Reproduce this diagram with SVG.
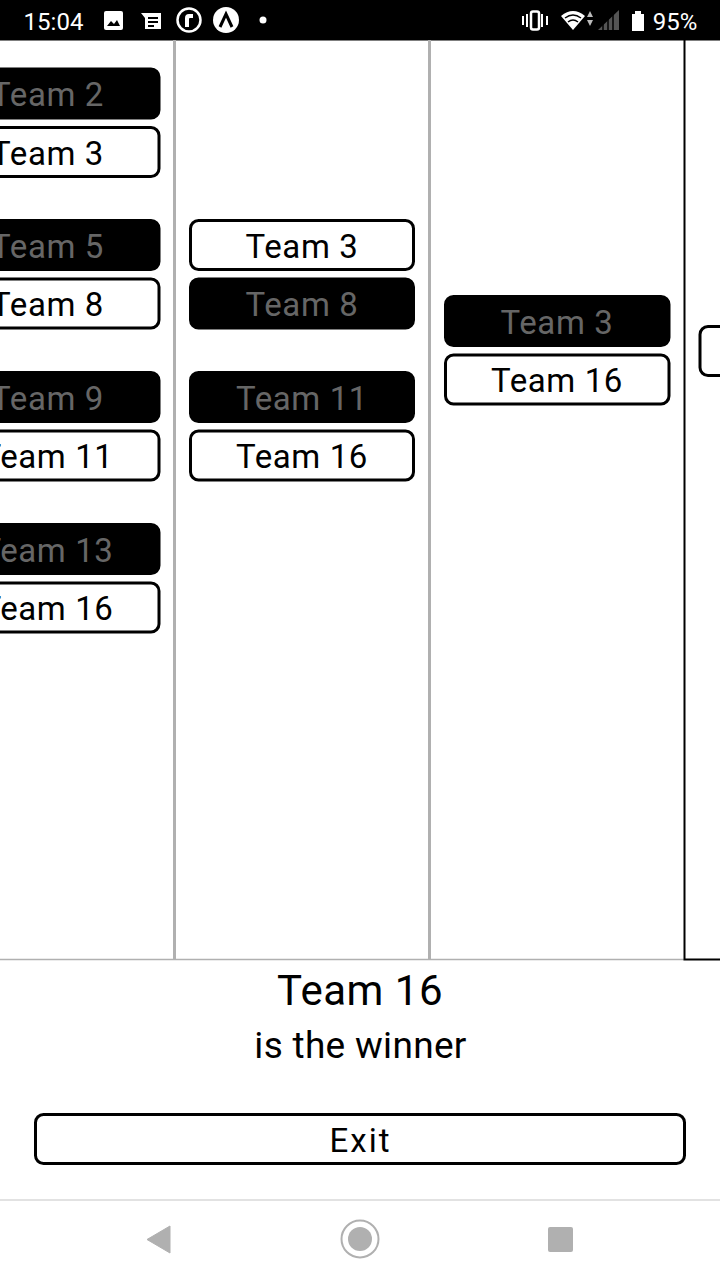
<svg xmlns="http://www.w3.org/2000/svg" width="720" height="1280" viewBox="0 0 720 1280">
<style>
text{font-family:Roboto,"Noto Sans",sans-serif;text-anchor:middle}
.t{font-size:33px;letter-spacing:.6px}
.w rect{fill:#fff;stroke:#000;stroke-width:3}
.w text{fill:#000}
.d rect{fill:#000;stroke:#000;stroke-width:3}
.d text{fill:#666}
.nav{fill:#b0b0b0}
</style>
<rect width="720" height="1280" fill="#fff"/>
<g id="status-bar">
<rect width="720" height="40.500" fill="#000"/>
<text x="53.500" y="30" font-size="24" fill="#fff">15:04</text>
<rect x="104" y="11" width="19" height="19" rx="2" fill="#fff"/>
<path d="M107 26l4-5 3 3 3-4 3 6z" fill="#000"/>
<path d="M141 13h20v16h-16v-11z" fill="#fff"/>
<path d="M148 17h10v2h-10zM148 21h10v2h-10zM148 25h6v2h-6z" fill="#000"/>
<circle cx="189" cy="20" r="11.500" fill="none" stroke="#fff" stroke-width="2.500"/>
<path d="M185 27v-9q0-4 4-4h4v4h-3q-1 0-1 1v8z" fill="#fff"/>
<circle cx="226" cy="20" r="13" fill="#fff"/>
<path d="M220 27l6-13 6 13" fill="none" stroke="#000" stroke-width="3"/>
<circle cx="263" cy="20" r="3.500" fill="#fff"/>
<path d="M522 16h2v9h-2zM526 14h2v13h-2zM541 14h2v13h-2zM546 16h2v9h-2z" fill="#fff"/>
<rect x="531" y="11.500" width="8" height="18" rx="2" fill="none" stroke="#fff" stroke-width="2.500"/>
<path d="M561 16q12-10 24 0l-12 14z" fill="#fff"/>
<path d="M565 18q8-6 16 0M568 22q5-4 10 0" stroke="#000" stroke-width="1.500" fill="none"/>
<path d="M587 17l3-6 3 6zM587 20l3 6 3-6z" fill="#bbb"/>
<path d="M598 30l21-20v20z" fill="#555"/>
<path d="M603 24v7M608 19v12M613 14v17" stroke="#000" stroke-width="1.500" fill="none"/>
<path d="M632 14h3v-3h6v3h3v17h-12z" fill="#fff"/>
<text x="675" y="30" font-size="24" fill="#fff">95%</text>
</g>
<g id="connectors">
<path d="M174.500 40v919M429.500 40v919" stroke="#b0b0b0" stroke-width="3" fill="none"/>
<path d="M0 959.500h684" stroke="#b0b0b0" stroke-width="1.500" fill="none"/>
<path d="M684.500 40v919.500h36" stroke="#000" stroke-width="2" fill="none"/>
</g>
<g id="r1-team2" class="d t"><rect x="-65" y="69" width="224" height="49" rx="8"/><text x="47.500" y="106">Team 2</text></g>
<g id="r1-team3" class="w t"><rect x="-65" y="127.500" width="224" height="49" rx="8"/><text x="47.500" y="165">Team 3</text></g>
<g id="r1-team5" class="d t"><rect x="-65" y="220.500" width="224" height="49" rx="8"/><text x="47.500" y="257.500">Team 5</text></g>
<g id="r1-team8" class="w t"><rect x="-65" y="279" width="224" height="49" rx="8"/><text x="47.500" y="316">Team 8</text></g>
<g id="r1-team9" class="d t"><rect x="-65" y="372.500" width="224" height="49" rx="8"/><text x="47.500" y="409.500">Team 9</text></g>
<g id="r1-team11" class="w t"><rect x="-65" y="431" width="224" height="49" rx="8"/><text x="47.500" y="468">Team 11</text></g>
<g id="r1-team13" class="d t"><rect x="-65" y="524.500" width="224" height="49" rx="8"/><text x="47.500" y="561.500">Team 13</text></g>
<g id="r1-team16" class="w t"><rect x="-65" y="583" width="224" height="49" rx="8"/><text x="47.500" y="620">Team 16</text></g>
<g id="r2-team3" class="w t"><rect x="190.500" y="220.500" width="223" height="49" rx="8"/><text x="302" y="257.500">Team 3</text></g>
<g id="r2-team8" class="d t"><rect x="190.500" y="279" width="223" height="49" rx="8"/><text x="302" y="316">Team 8</text></g>
<g id="r2-team11" class="d t"><rect x="190.500" y="372.500" width="223" height="49" rx="8"/><text x="302" y="409.500">Team 11</text></g>
<g id="r2-team16" class="w t"><rect x="190.500" y="431" width="223" height="49" rx="8"/><text x="302" y="468">Team 16</text></g>
<g id="r3-team3" class="d t"><rect x="445.500" y="296.500" width="223.500" height="49" rx="8"/><text x="557" y="333.500">Team 3</text></g>
<g id="r3-team16" class="w t"><rect x="445.500" y="355" width="223.500" height="49" rx="8"/><text x="557" y="392">Team 16</text></g>
<g id="r4-team16" class="w t"><rect x="700" y="326.500" width="225" height="49" rx="8"/></g>
<g id="winner">
<text x="360" y="1005" font-size="42" letter-spacing=".5">Team 16</text>
<text x="360.500" y="1058" font-size="37" letter-spacing=".3">is the winner</text>
</g>
<g id="exit" class="w t"><rect x="35.500" y="1114.500" width="649" height="49" rx="8"/><text x="360.500" y="1152" style="letter-spacing:2px">Exit</text></g>
<g id="nav-bar">
<path d="M0 1200h720" stroke="#e2e2e2" stroke-width="2"/>
<path d="M147 1239.500l23-13.500v27z" class="nav" stroke="#b0b0b0" stroke-linejoin="round"/>
<circle cx="360" cy="1239" r="18.500" fill="none" stroke="#b0b0b0" stroke-width="2"/>
<circle cx="360" cy="1239" r="12" class="nav"/>
<rect x="548" y="1227" width="25" height="25" rx="2" class="nav"/>
</g>
</svg>
